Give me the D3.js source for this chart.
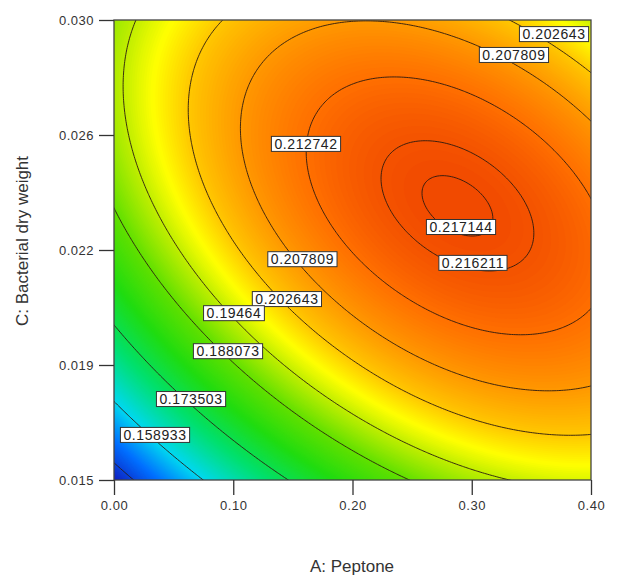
<!DOCTYPE html>
<html>
<head>
<meta charset="utf-8">
<script src="https://cdn.jsdelivr.net/npm/d3@7"></script>
<style>
  body { margin: 0; background: #fff; }
  text { font-family: "Liberation Sans", Arial, sans-serif; }
</style>
</head>
<body>
<svg id="chart" width="617" height="577"></svg>
<script>
var xTicks = [0, 0.1, 0.2, 0.3, 0.4];
var xTickLabels = ['0.00', '0.10', '0.20', '0.30', '0.40'];
var yTicks = [0.015, 0.01875, 0.0225, 0.02625, 0.030];
var yTickLabels = ['0.015', '0.019', '0.022', '0.026', '0.030'];

// fitted quadratic response, written around its optimum
var optimum = [0.288, 0.02394];   // A: Peptone, C: Bacterial dry weight
var peakValue = 0.2174;
var curvature = [0.3513, 319.8, 8.887]; // A^2, C^2, A*C

var levels = [0.144363, 0.158933, 0.173503, 0.188073, 0.19464,
  0.202643, 0.207809, 0.212742, 0.216211, 0.217144];

var labelLevels = [0.202643, 0.207809, 0.212742, 0.217144, 0.216211,
  0.207809, 0.202643, 0.19464, 0.188073, 0.173503, 0.158933];
var labelA = [0.369, 0.3354, 0.161, 0.291, 0.301, 0.158, 0.145, 0.1006, 0.0956, 0.0646, 0.0344];
var labelC = [0.02954, 0.02886, 0.02596, 0.02325, 0.02208, 0.0222, 0.0209, 0.02044, 0.0192, 0.01764, 0.01647];

var colorStops = [0.140, 0.150, 0.159, 0.170, 0.180, 0.188, 0.1946, 0.1985, 0.2026, 0.2078, 0.2127, 0.2175];
var colorValues = ['#1020c0', '#0070ff', '#00d8f0', '#00e070', '#20dc10', '#60e000',
  '#c0ee00', '#ffff00', '#ffc800', '#ff9800', '#ff7000', '#f04800'];

var box = { left: 114, top: 20, right: 591, bottom: 480 };

var x = d3.scaleLinear().domain([0, 0.4]).range([box.left, box.right]);
var y = d3.scaleLinear().domain([0.015, 0.030]).range([box.bottom, box.top]);
var color = d3.scaleLinear().domain(colorStops).range(colorValues)
  .interpolate(d3.interpolateRgb).clamp(true);

function response(a, c) {
  var da = a - optimum[0], dc = c - optimum[1];
  return peakValue - (curvature[0] * da * da + curvature[1] * dc * dc + curvature[2] * da * dc);
}

var svg = d3.select('#chart');

svg.append('clipPath').attr('id', 'plotclip')
  .append('rect')
  .attr('x', box.left).attr('y', box.top)
  .attr('width', box.right - box.left).attr('height', box.bottom - box.top);

// sample grid a bit larger than the plot so contours never run along the edge
var nx = 220, ny = 220;
var a0 = -0.02, a1 = 0.42, c0 = 0.0142, c1 = 0.0308;
var da = (a1 - a0) / nx, dc = (c1 - c0) / ny;
var grid = new Array(nx * ny);
for (var j = 0; j < ny; j++) {
  for (var i = 0; i < nx; i++) {
    grid[i + j * nx] = response(a0 + (i + 0.5) * da, c1 - (j + 0.5) * dc);
  }
}

var path = d3.geoPath(d3.geoTransform({
  point: function (gx, gy) {
    this.stream.point(x(a0 + gx * da), y(c1 - gy * dc));
  }
}));

var plot = svg.append('g').attr('clip-path', 'url(#plotclip)');

var lo = d3.min(grid), hi = d3.max(grid);
plot.append('rect')
  .attr('x', box.left).attr('y', box.top)
  .attr('width', box.right - box.left).attr('height', box.bottom - box.top)
  .attr('fill', color(lo));

var bandThresholds = d3.range(lo, hi, 0.0003);
plot.append('g').selectAll('path')
  .data(d3.contours().size([nx, ny]).thresholds(bandThresholds)(grid))
  .enter().append('path')
  .attr('d', path)
  .attr('fill', function (d) { return color(d.value + 0.00015); })
  .attr('stroke', 'none');

var lines = d3.contours().size([nx, ny]).thresholds(levels)(grid);
plot.append('g').selectAll('path')
  .data(lines)
  .enter().append('path')
  .attr('d', path)
  .attr('fill', 'none')
  .attr('stroke', '#2a1a10')
  .attr('stroke-width', 0.9);

// frame
svg.append('rect')
  .attr('x', box.left).attr('y', box.top)
  .attr('width', box.right - box.left).attr('height', box.bottom - box.top)
  .attr('fill', 'none').attr('stroke', '#444').attr('stroke-width', 1.3);

// axes
var xAxis = svg.append('g').attr('transform', 'translate(0,' + box.bottom + ')')
  .call(d3.axisBottom(x).tickValues(xTicks).tickSize(15).tickPadding(6)
    .tickFormat(function (d, i) { return xTickLabels[i]; }));
var yAxis = svg.append('g').attr('transform', 'translate(' + box.left + ',0)')
  .call(d3.axisLeft(y).tickValues(yTicks).tickSize(15).tickPadding(5)
    .tickFormat(function (d, i) { return yTickLabels[i]; }));
[xAxis, yAxis].forEach(function (g) {
  g.select('.domain').remove();
  g.selectAll('.tick line').attr('stroke', '#333').attr('stroke-width', 1.3);
  g.selectAll('.tick text')
    .attr('fill', '#333')
    .style('font-size', '13px')
    .style('letter-spacing', '0.5px')
    .style('font-family', '"Liberation Sans", Arial, sans-serif');
});

// contour labels
var labels = svg.append('g');
labelLevels.forEach(function (lv, k) {
  var g = labels.append('g')
    .attr('transform', 'translate(' + x(labelA[k]) + ',' + y(labelC[k]) + ')');
  var r = g.append('rect');
  var t = g.append('text')
    .attr('text-anchor', 'middle')
    .attr('dy', '0.36em')
    .attr('fill', '#222')
    .style('font-size', '14px')
    .style('letter-spacing', '0.6px')
    .text(String(lv));
  var w = t.node().getComputedTextLength() + 6;
  r.attr('x', -w / 2).attr('y', -7.5).attr('width', w).attr('height', 15)
    .attr('fill', '#fff').attr('stroke', '#333').attr('stroke-width', 1);
});

// axis titles
svg.append('text')
  .attr('transform', 'translate(28,241) rotate(-90)')
  .attr('text-anchor', 'middle')
  .attr('fill', '#333')
  .style('font-size', '17px')
  .text('C: Bacterial dry weight');
svg.append('text')
  .attr('x', 352).attr('y', 572)
  .attr('text-anchor', 'middle')
  .attr('fill', '#333')
  .style('font-size', '17px')
  .text('A: Peptone');
</script>
</body>
</html>
